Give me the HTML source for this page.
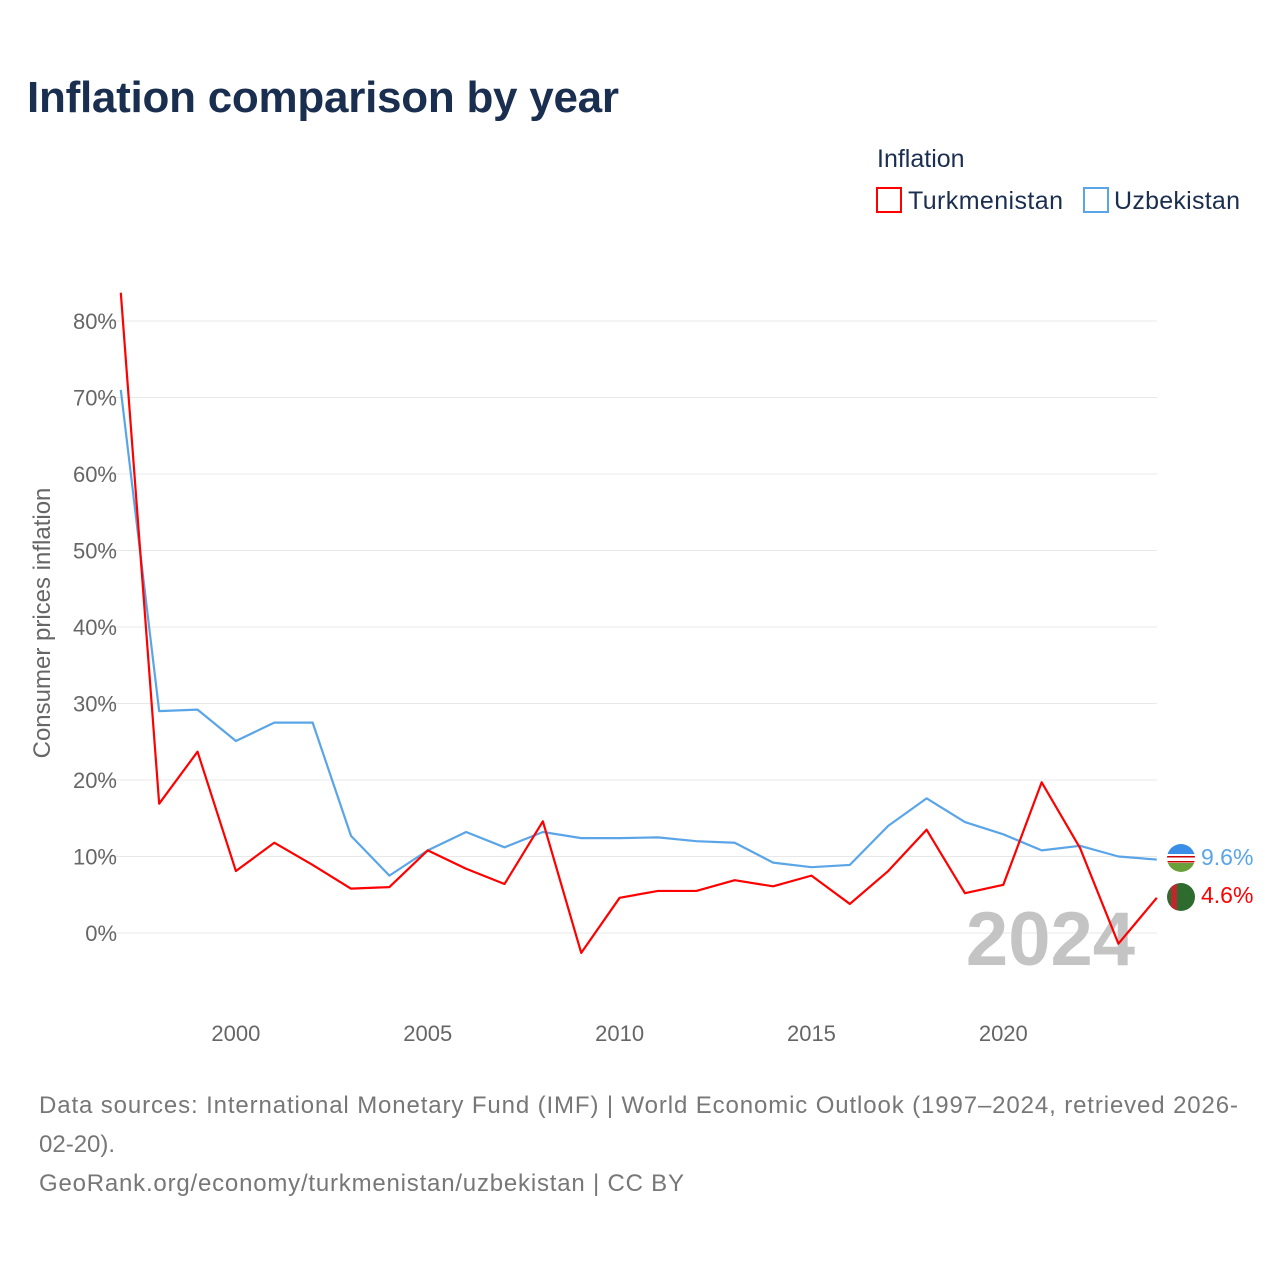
<!DOCTYPE html>
<html><head><meta charset="utf-8"><style>
body{margin:0;background:#fff;font-family:"Liberation Sans",sans-serif;}
</style></head><body>
<svg id="chart" width="1280" height="1280" xmlns="http://www.w3.org/2000/svg" font-family="Liberation Sans, sans-serif">
<rect width="1280" height="1280" fill="#fff"/>
<text x="27" y="112" font-size="44" font-weight="bold" fill="#1a2e4f" textLength="592">Inflation comparison by year</text>
<text x="877" y="167" font-size="25" fill="#1a2e4f">Inflation</text>
<g>
<rect x="877" y="188" width="24" height="24" fill="none" stroke="#ff0000" stroke-width="2"/>
<text x="908" y="209" font-size="25" fill="#1a2e4f" textLength="155">Turkmenistan</text></g>
<g>
<rect x="1084" y="188" width="24" height="24" fill="none" stroke="#5aa5e8" stroke-width="2"/>
<text x="1114" y="209" font-size="25" fill="#1a2e4f" textLength="126">Uzbekistan</text></g>
<g id="grid"></g><g id="yt"></g><g id="xt"></g>
<text transform="translate(50,623) rotate(-90)" text-anchor="middle" font-size="24" fill="#666">Consumer prices inflation</text>
<text x="1135" y="965" text-anchor="end" font-size="76" font-weight="bold" fill="#c4c4c4">2024</text>
<g id="lines"></g>
<g>
<clipPath id="c1"><circle cx="1181" cy="858" r="14"/></clipPath>
<g clip-path="url(#c1)"><rect x="1167" y="844" width="28" height="10" fill="#3a8ee6"/><rect x="1167" y="854" width="28" height="9" fill="#fff"/><rect x="1167" y="856" width="28" height="1.5" fill="#c00"/><rect x="1167" y="861" width="28" height="1.5" fill="#c00"/><rect x="1167" y="863" width="28" height="9" fill="#6aa03a"/></g></g>
<g>
<clipPath id="c2"><circle cx="1181" cy="897" r="14"/></clipPath>
<g clip-path="url(#c2)"><rect x="1167" y="883" width="28" height="28" fill="#2e6b2e"/><rect x="1171" y="883" width="6" height="28" fill="#c0262d"/></g></g>
<text x="1201" y="865" font-size="23" fill="#5aa5e8">9.6%</text>
<text x="1201" y="903" font-size="23" fill="#ff0000">4.6%</text>
<text font-size="24" fill="#777"><tspan x="39" y="1113" textLength="1199">Data sources: International Monetary Fund (IMF) | World Economic Outlook (1997–2024, retrieved 2026-</tspan><tspan x="39" y="1152">02-20).</tspan><tspan x="39" y="1191" textLength="645">GeoRank.org/economy/turkmenistan/uzbekistan | CC BY</tspan></text>
</svg>
<script>
const years=[1997,1998,1999,2000,2001,2002,2003,2004,2005,2006,2007,2008,2009,2010,2011,2012,2013,2014,2015,2016,2017,2018,2019,2020,2021,2022,2023,2024];
const turkmenistan=[83.7,16.9,23.7,8.1,11.8,8.9,5.8,6.0,10.8,8.4,6.4,14.6,-2.6,4.6,5.5,5.5,6.9,6.1,7.5,3.8,8.1,13.5,5.2,6.3,19.7,11.1,-1.4,4.6];
const uzbekistan=[71,29.0,29.2,25.1,27.5,27.5,12.7,7.5,10.8,13.2,11.2,13.2,12.4,12.4,12.5,12.0,11.8,9.2,8.6,8.9,14.0,17.6,14.5,12.9,10.8,11.4,10.0,9.6];
const yTicks=[0,10,20,30,40,50,60,70,80];
const xTicks=[2000,2005,2010,2015,2020];
const NS="http://www.w3.org/2000/svg";
const x=v=>120.8+(v-1997)*38.37;
const y=v=>933-v*7.65;
function mk(t,a,p){const e=document.createElementNS(NS,t);for(const k in a)e.setAttribute(k,a[k]);document.getElementById(p).appendChild(e);return e;}
yTicks.forEach(t=>{
 const g=mk('line',{x1:98,x2:1157,y1:y(t),y2:y(t),stroke:'#e8e8e8','stroke-width':1},'grid');
 
 
 const l=mk('text',{x:117,y:y(t)+8,'text-anchor':'end','font-size':22,fill:'#666'},'yt');
 
 
 l.textContent=t+'%';
});
xTicks.forEach(t=>{
 const l=mk('text',{x:x(t),y:1041,'text-anchor':'middle','font-size':22,fill:'#666'},'xt');
 
 
 l.textContent=t;
});
function line(d,c,n){
 const p=mk('polyline',{points:d.map((v,i)=>x(years[i])+','+y(v)).join(' '),fill:'none',stroke:c,'stroke-width':2.2,'stroke-linejoin':'round'},'lines');
 
 
}
line(uzbekistan,'#5aa5e8','uzbekistan-line');
line(turkmenistan,'#ff0000','turkmenistan-line');
</script>
</body></html>
